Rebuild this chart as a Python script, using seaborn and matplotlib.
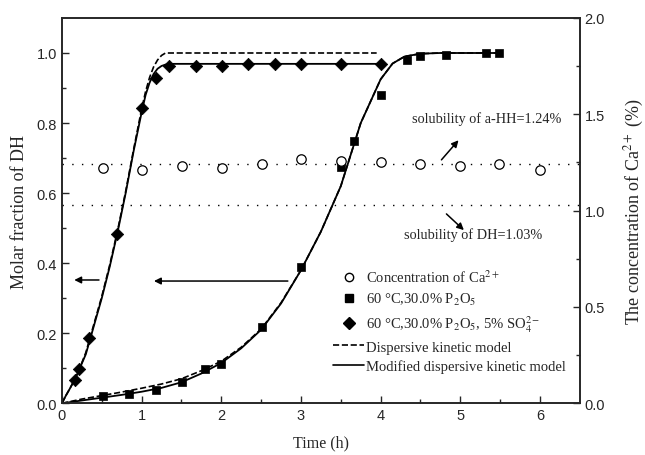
import numpy as np
import pandas as pd
import seaborn as sns
import matplotlib.pyplot as plt
from matplotlib.lines import Line2D

# measured points
t_so4 = [0.17, 0.22, 0.34, 0.69, 1.01, 1.175, 1.345, 1.68, 2.01, 2.33, 2.67, 3.0, 3.5, 4.0]
x_so4 = [0.067, 0.098, 0.186, 0.484, 0.843, 0.929, 0.963, 0.963, 0.963, 0.969, 0.969, 0.969, 0.969, 0.969]

t_p2o5 = [0.51, 0.84, 1.175, 1.51, 1.8, 2.0, 2.51, 3.0, 3.5, 3.67, 4.0, 4.33, 4.5, 4.82, 5.32, 5.49]
x_p2o5 = [0.022, 0.027, 0.038, 0.061, 0.099, 0.113, 0.217, 0.389, 0.674, 0.75, 0.881, 0.979, 0.991, 0.995, 1.0, 1.0]

t_ca = [0.51, 1.01, 1.51, 2.01, 2.51, 3.0, 3.5, 4.0, 4.5, 5.0, 5.49, 6.0]
ca = [1.22, 1.21, 1.23, 1.22, 1.24, 1.27, 1.26, 1.25, 1.24, 1.23, 1.24, 1.21]

# model curves
t_fast = [0, 0.05, 0.1, 0.17, 0.22, 0.3, 0.4, 0.5, 0.6, 0.7, 0.8, 0.9, 1.0, 1.05, 1.1, 1.15,
          1.2, 1.25, 1.3, 1.4, 1.6, 2.0, 3.0, 4.0]
fast_mod = [0, 0.022, 0.042, 0.072, 0.098, 0.14, 0.22, 0.3, 0.39, 0.49, 0.6, 0.72, 0.83, 0.88,
            0.915, 0.94, 0.955, 0.963, 0.967, 0.969, 0.969, 0.969, 0.969, 0.969]
t_fast_d = [0, 0.05, 0.1, 0.17, 0.22, 0.3, 0.4, 0.5, 0.6, 0.7, 0.8, 0.9, 1.0, 1.05, 1.1, 1.15,
            1.2, 1.25, 1.3, 2.0, 3.0, 3.95]
fast_disp = [0, 0.022, 0.042, 0.072, 0.098, 0.145, 0.225, 0.305, 0.395, 0.495, 0.605, 0.725, 0.84,
             0.89, 0.93, 0.96, 0.98, 0.993, 1.0, 1.0, 1.0, 1.0]

t_slow = [0, 0.25, 0.5, 0.75, 1.0, 1.25, 1.5, 1.75, 2.0, 2.25, 2.5, 2.75, 3.0, 3.25, 3.5, 3.75,
          4.0, 4.15, 4.3, 4.5, 4.75, 5.0, 5.5]
slow_mod = [0, 0.008, 0.016, 0.024, 0.033, 0.044, 0.06, 0.085, 0.115, 0.157, 0.21, 0.285, 0.38,
            0.49, 0.62, 0.8, 0.925, 0.97, 0.99, 0.998, 1.0, 1.0, 1.0]
slow_disp = [0, 0.012, 0.022, 0.032, 0.043, 0.055, 0.07, 0.093, 0.12, 0.16, 0.212, 0.287, 0.38,
             0.49, 0.62, 0.8, 0.925, 0.97, 0.99, 0.998, 1.0, 1.0, 1.0]

sol_hh = 1.24
sol_dh = 1.03

sns.set_style("ticks")
plt.rcParams['font.family'] = ['Liberation Sans', 'DejaVu Sans']
plt.rcParams['mathtext.fontset'] = 'stix'
plt.rcParams['xtick.direction'] = 'in'
plt.rcParams['ytick.direction'] = 'in'

fig = plt.figure(figsize=(6.45, 4.56), dpi=100)
ax = fig.add_axes([0.096, 0.1134, 0.803, 0.845])
ax2 = ax.twinx()

serif = {'family': ['Liberation Serif', 'DejaVu Serif']}

# model lines
sns.lineplot(x=t_fast_d, y=fast_disp, ax=ax, color='black', linestyle='--', lw=1.2, sort=False)
sns.lineplot(x=t_slow, y=slow_disp, ax=ax, color='black', linestyle='--', lw=1.2, sort=False)
sns.lineplot(x=t_fast, y=fast_mod, ax=ax, color='black', lw=1.3, sort=False)
sns.lineplot(x=t_slow, y=slow_mod, ax=ax, color='black', lw=1.3, sort=False)

# data points
sns.scatterplot(x=t_p2o5, y=x_p2o5, ax=ax, marker='s', s=38, color='black', edgecolor='black', zorder=5)
sns.scatterplot(x=t_so4, y=x_so4, ax=ax, marker='D', s=40, color='black', edgecolor='black', zorder=5)
sns.scatterplot(x=t_ca, y=ca, ax=ax2, marker='o', s=46, facecolor='white', edgecolor='black',
                linewidth=0.9, zorder=5)

ax2.axhline(sol_hh, color='black', lw=1, linestyle=(0, (1, 6)))
ax2.axhline(sol_dh, color='black', lw=1, linestyle=(0, (1, 6)))

ax.set_xlim(0, 6.5)
ax.set_ylim(0, 1.1)
ax2.set_ylim(0, 2.0)
ax.set_xticks([0, 1, 2, 3, 4, 5, 6])
ax.set_xticks(np.arange(0.5, 6.5, 1.0), minor=True)
ax.set_yticks([0.0, 0.2, 0.4, 0.6, 0.8, 1.0])
ax.set_yticks([0.1, 0.3, 0.5, 0.7, 0.9], minor=True)
ax.set_yticklabels(['0.0', '0.2', '0.4', '0.6', '0.8', '1.0'])
ax2.set_yticks([0.0, 0.5, 1.0, 1.5, 2.0])
ax2.set_yticks([0.25, 0.75, 1.25, 1.75], minor=True)
ax2.set_yticklabels(['0.0', '0.5', '1.0', '1.5', '2.0'])
ax.tick_params(which='major', length=5, width=1, labelsize=10.5, top=False)
ax.tick_params(which='minor', length=3, width=1, top=False)
ax2.tick_params(which='major', length=5, width=1, labelsize=10.5)
ax2.tick_params(which='minor', length=3, width=1)
for a in (ax, ax2):
    for sp in a.spines.values():
        sp.set_linewidth(1.2)
        sp.set_visible(True)

ax.set_xlabel('Time (h)', fontdict=serif, fontsize=11.5, labelpad=9)
ax.set_ylabel('Molar fraction of DH', fontdict=serif, fontsize=13, labelpad=6)
ax2.set_ylabel('The concentration of Ca$^{2+}$ (%)', fontdict=serif, fontsize=13, labelpad=13)

# arrows and annotations
arrow = dict(arrowstyle='-|>', color='black', lw=1.1, mutation_scale=10)
ax.annotate('', xy=(0.12, 0.352), xytext=(0.5, 0.352), arrowprops=arrow)
ax.annotate('', xy=(1.12, 0.349), xytext=(2.87, 0.349), arrowprops=arrow)
ax.annotate('', xy=(5.0, 0.757), xytext=(4.74, 0.689), arrowprops=arrow)
ax.annotate('', xy=(5.07, 0.489), xytext=(4.80, 0.546), arrowprops=arrow)
ax.text(4.39, 0.814, 'solubility of a-HH=1.24%', fontdict=serif, fontsize=10.3, va='center')
ax.text(4.29, 0.484, 'solubility of DH=1.03%', fontdict=serif, fontsize=10.3, va='center')

handles = [
    Line2D([], [], marker='o', ls='none', mfc='white', mec='black', ms=6),
    Line2D([], [], marker='s', ls='none', color='black', ms=6),
    Line2D([], [], marker='D', ls='none', color='black', ms=6),
    Line2D([], [], ls='--', color='black', lw=1.2),
    Line2D([], [], ls='-', color='black', lw=1.2),
]
labels = ['Concentration of Ca$^{2+}$', '60 \u00b0C,30.0% P$_2$O$_5$',
          '60 \u00b0C,30.0% P$_2$O$_5$, 5% SO$_4^{2-}$',
          'Dispersive kinetic model', 'Modified dispersive kinetic model']
ax.legend(handles, labels, loc='upper left', bbox_to_anchor=(0.513, 0.365), frameon=False,
          prop={'family': 'Liberation Serif', 'size': 10.5}, handlelength=2.1,
          handletextpad=0.15, labelspacing=0.42, borderaxespad=0)

fig.savefig('out.png', dpi=100)
